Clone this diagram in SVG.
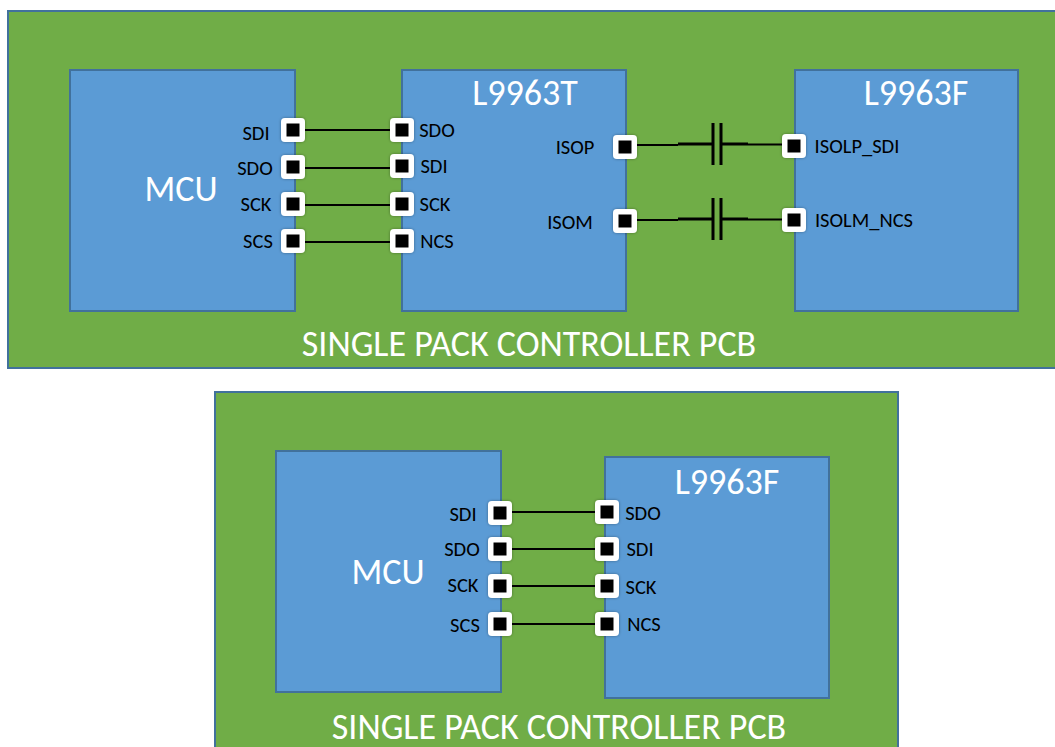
<svg xmlns="http://www.w3.org/2000/svg" width="1055" height="747" viewBox="0 0 1055 747">
<style>
.pcb{fill:#70ad47;stroke:#41719c;stroke-width:2}
.chip{fill:#5b9bd5;stroke:#41719c;stroke-width:2}
text{font-family:Carlito,Lato,"Liberation Sans",sans-serif;fill:#000}
.big{font-size:36px;fill:#fff;text-anchor:middle}
.lab{font-size:20.500px;text-anchor:middle}
.w{stroke:#000;stroke-width:2;fill:none}
.t{stroke:#000;stroke-width:3;fill:none}
.pad{fill:#fff;filter:url(#sh)}
</style>
<defs>
<filter id="sh" x="-30%" y="-30%" width="160%" height="160%"><feDropShadow dx="0" dy="0" stdDeviation="1.500" flood-color="#000" flood-opacity=".35"/></filter>
<g id="pin"><rect class="pad" x="-12" y="-12" width="24" height="24" rx="4"/><rect x="-6.500" y="-6.500" width="13" height="13" fill="#000"/></g>
</defs>
<g id="pcb-top"><rect class="pcb" x="8" y="11" width="1050" height="357"/><text class="big" x="529" y="356">SINGLE PACK CONTROLLER PCB</text></g>
<g id="pcb-bottom"><rect class="pcb" x="215" y="392" width="683" height="360"/><text class="big" x="559" y="739">SINGLE PACK CONTROLLER PCB</text></g>
<g id="mcu-top"><rect class="chip" x="70" y="70" width="225" height="241"/><text class="big" x="181" y="201">MCU</text></g>
<g id="l9963t"><rect class="chip" x="402" y="70" width="224" height="241"/><text class="big" x="525" y="105">L9963T</text></g>
<g id="l9963f-top"><rect class="chip" x="795" y="70" width="223" height="241"/><text class="big" x="916" y="105">L9963F</text></g>
<g id="mcu-bottom"><rect class="chip" x="276" y="451" width="225" height="241"/><text class="big" x="388" y="584">MCU</text></g>
<g id="l9963f-bottom"><rect class="chip" x="605" y="457" width="224" height="241"/><text class="big" x="727" y="494">L9963F</text></g>
<g id="connectors">
<path class="w" d="M293 130H402M293 168H402M293 205H402M293 242H402"/>
<path class="w" d="M625 145H678M748 144.500H794M625 220H678M748 219.500H794"/>
<path class="t" d="M678 144H713M721 144H748M678 219H713M721 219H748M713 123V165M721 123V165M713 198V240M721 198V240"/>
<path class="w" d="M500 512H607M500 549H607M500 586H607M500 624H607"/>
</g>
<g id="pins">
<use href="#pin" x="293" y="130"/><use href="#pin" x="293" y="167"/><use href="#pin" x="293" y="204"/><use href="#pin" x="293" y="241"/>
<use href="#pin" x="402" y="130"/><use href="#pin" x="402" y="166"/><use href="#pin" x="402" y="204"/><use href="#pin" x="402" y="241"/>
<use href="#pin" x="625" y="147"/><use href="#pin" x="625" y="221"/><use href="#pin" x="794" y="146"/><use href="#pin" x="794" y="220"/>
<use href="#pin" x="500" y="513"/><use href="#pin" x="500" y="549"/><use href="#pin" x="500" y="586"/><use href="#pin" x="500" y="624"/>
<use href="#pin" x="607" y="512"/><use href="#pin" x="607" y="549"/><use href="#pin" x="607" y="586"/><use href="#pin" x="607" y="624"/>
</g>
<g id="labels">
<text class="lab" x="256" y="140">SDI</text><text class="lab" x="255" y="175">SDO</text><text class="lab" x="256" y="211">SCK</text><text class="lab" x="258" y="248">SCS</text>
<text class="lab" x="437" y="137">SDO</text><text class="lab" x="434" y="173">SDI</text><text class="lab" x="435" y="211">SCK</text><text class="lab" x="437" y="248">NCS</text>
<text class="lab" x="575" y="154">ISOP</text><text class="lab" x="570" y="229">ISOM</text>
<text class="lab" x="857" y="153">ISOLP_SDI</text><text class="lab" x="864" y="227">ISOLM_NCS</text>
<text class="lab" x="463" y="521">SDI</text><text class="lab" x="462" y="556">SDO</text><text class="lab" x="463" y="592">SCK</text><text class="lab" x="465" y="632">SCS</text>
<text class="lab" x="643" y="520">SDO</text><text class="lab" x="640" y="556">SDI</text><text class="lab" x="641" y="594">SCK</text><text class="lab" x="644" y="631">NCS</text>
</g>
</svg>
